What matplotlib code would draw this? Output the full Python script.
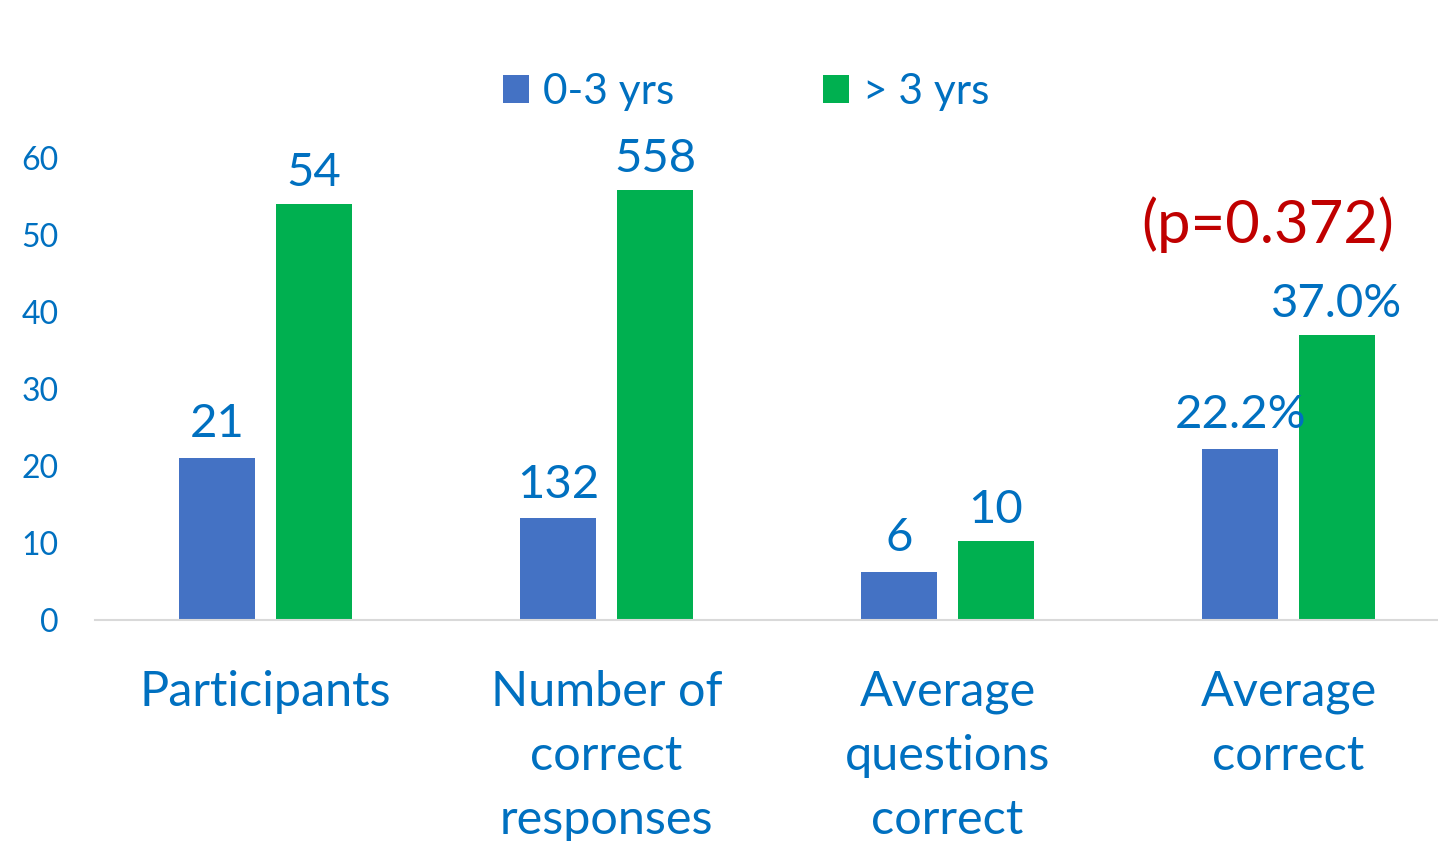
import matplotlib
matplotlib.use("Agg")
import matplotlib.pyplot as plt
import numpy as np

categories = ["Participants", "Number of\ncorrect\nresponses", "Average\nquestions\ncorrect", "Average\ncorrect"]
series_names = ["0-3 yrs", "> 3 yrs"]
values_a = [21, 13.2, 6.2, 22.2]
values_b = [54, 55.8, 10.3, 37.0]
labels_a = ["21", "132", "6", "22.2%"]
labels_b = ["54", "558", "10", "37.0%"]
yticks = [0, 10, 20, 30, 40, 50, 60]
pvalue_text = "(p=0.372)"

BLUE = "#4472C4"
GREEN = "#00B050"
TXT = "#0070C0"
RED = "#C00000"
FONT = ["Lato", "DejaVu Sans"]
plt.rcParams['font.family'] = FONT

fig = plt.figure(figsize=(14.38, 8.41), dpi=100)
ax = fig.add_axes([95/1438, 221/841, 1364/1438, (620-158)/841])

x = np.arange(len(categories))
w = 0.223
off = 0.142
ba = ax.bar(x - off, values_a, w, color=BLUE, label=series_names[0])
bb = ax.bar(x + off, values_b, w, color=GREEN, label=series_names[1])

for xi, v, t in zip(x - off, values_a, labels_a):
    ax.annotate(t, (xi, v), xytext=(0, 15), textcoords="offset points",
                ha="center", va="baseline", fontsize=34, color=TXT, annotation_clip=False)
for xi, v, t in zip(x + off, values_b, labels_b):
    ax.annotate(t, (xi, v), xytext=(0, 13), textcoords="offset points",
                ha="center", va="baseline", fontsize=34, color=TXT, annotation_clip=False)

ax.annotate(pvalue_text, (x[-1], values_b[-1]), xytext=(-15, 66), textcoords="offset points",
            ha="center", va="baseline", fontsize=43, color=RED, annotation_clip=False)

ax.set_xlim(-0.5, len(categories) - 0.5)
ax.set_ylim(0, 60)
ax.set_yticks(yticks)
ax.set_yticklabels([str(t) for t in yticks], fontsize=23, color=TXT)
ax.set_xticks(x)
ax.set_xticklabels(categories, fontsize=35, color=TXT, linespacing=1.56)
ax.tick_params(axis="both", length=0)
ax.tick_params(axis="x", pad=36)
ax.tick_params(axis="y", pad=26)
for s in ["top", "right", "left"]:
    ax.spines[s].set_visible(False)
ax.spines["bottom"].set_color("#D9D9D9")
ax.spines["bottom"].set_linewidth(1.5)

leg = fig.legend(handles=[ba, bb], labels=series_names, loc="center", bbox_to_anchor=(746/1438, 1 - 92/841),
                 ncol=2, frameon=False, fontsize=30.5, handlelength=0.62, handleheight=0.62,
                 handletextpad=0.33, columnspacing=3.5)
for t in leg.get_texts():
    t.set_color(TXT)

fig.savefig("out.png", dpi=100)
